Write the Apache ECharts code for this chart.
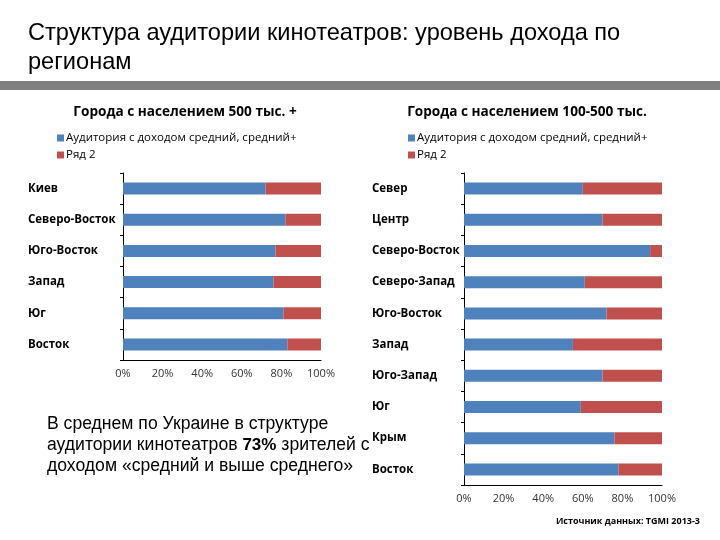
<!DOCTYPE html>
<html>
<head>
<meta charset="utf-8">
<script src="https://cdn.jsdelivr.net/npm/echarts@6/dist/echarts.min.js"></script>
<style>
html,body{margin:0;padding:0;background:#fff;}
#c{width:720px;height:540px;}
</style>
</head>
<body>
<div id="c"></div>
<script>
// ---- data ----
const leftCategories = ['Киев', 'Северо-Восток', 'Юго-Восток', 'Запад', 'Юг', 'Восток'];
const leftIncome = [72, 82, 77, 76, 81, 83];
const leftRow2 = [28, 18, 23, 24, 19, 17];

const rightCategories = ['Север', 'Центр', 'Северо-Восток', 'Северо-Запад', 'Юго-Восток', 'Запад', 'Юго-Запад', 'Юг', 'Крым', 'Восток'];
const rightIncome = [60, 70, 94, 61, 72, 55, 70, 59, 76, 78];
const rightRow2 = [40, 30, 6, 39, 28, 45, 30, 41, 24, 22];

const xTicks = [0, 20, 40, 60, 80, 100];
const seriesNames = ['Аудитория с доходом средний, средний+', 'Ряд 2'];

const BLUE = '#4F81BD';
const RED = '#C0504D';
const chartFont = 'Open Sans';

const chart = echarts.init(document.getElementById('c'), null, {renderer: 'canvas'});

function xAxisCfg(gridIndex) {
  return {
    gridIndex: gridIndex,
    type: 'value',
    min: xTicks[0],
    max: xTicks[xTicks.length - 1],
    interval: xTicks[1] - xTicks[0],
    axisLine: {show: true, lineStyle: {color: '#000', width: 1}},
    axisTick: {show: false},
    splitLine: {show: false},
    axisLabel: {
      formatter: v => v + '%',
      color: '#333',
      fontFamily: chartFont,
      fontSize: 11,
      margin: 8
    }
  };
}
function yAxisCfg(gridIndex, cats, margin) {
  return {
    gridIndex: gridIndex,
    type: 'category',
    data: cats,
    inverse: true,
    axisLine: {show: true, lineStyle: {color: '#000', width: 1}},
    axisTick: {show: true, length: 3, lineStyle: {color: '#000'}},
    axisLabel: {
      align: 'left',
      margin: margin,
      color: '#000',
      fontWeight: 'bold',
      fontFamily: chartFont,
      fontSize: 11.5
    }
  };
}
function barSeries(name, data, color, xi, yi) {
  return {
    name: name,
    type: 'bar',
    stack: 'g' + xi,
    xAxisIndex: xi,
    yAxisIndex: yi,
    data: data,
    barWidth: 12,
    itemStyle: {color: color},
    emphasis: {disabled: true},
    animation: false
  };
}

const option = {
  animation: false,
  backgroundColor: '#fff',
  title: [
    {
      text: 'Города с населением 500 тыс. +',
      left: 180, top: 100, textAlign: 'center',
      textStyle: {fontFamily: chartFont, fontWeight: 'bold', fontSize: 13.6, color: '#000'}
    },
    {
      text: 'Города с населением 100-500 тыс.',
      left: 522, top: 100, textAlign: 'center',
      textStyle: {fontFamily: chartFont, fontWeight: 'bold', fontSize: 13.6, color: '#000'}
    }
  ],
  legend: [
    {
      orient: 'vertical', left: 52, top: 127,
      itemWidth: 7, itemHeight: 7, itemGap: 5,
      icon: 'rect',
      data: seriesNames,
      textStyle: {fontFamily: chartFont, fontSize: 11.5, color: '#000', padding: [0, 0, 0, -3]}
    },
    {
      orient: 'vertical', left: 403, top: 127,
      itemWidth: 7, itemHeight: 7, itemGap: 5,
      icon: 'rect',
      data: seriesNames,
      textStyle: {fontFamily: chartFont, fontSize: 11.5, color: '#000', padding: [0, 0, 0, -3]}
    }
  ],
  grid: [
    {left: 123, right: 399, top: 173, bottom: 180},
    {left: 464, right: 58, top: 173, bottom: 55}
  ],
  xAxis: [xAxisCfg(0), xAxisCfg(1)],
  yAxis: [yAxisCfg(0, leftCategories, 95), yAxisCfg(1, rightCategories, 92)],
  series: [
    barSeries(seriesNames[0], leftIncome, BLUE, 0, 0),
    barSeries(seriesNames[1], leftRow2, RED, 0, 0),
    barSeries(seriesNames[0], rightIncome, BLUE, 1, 1),
    barSeries(seriesNames[1], rightRow2, RED, 1, 1)
  ],
  graphic: [
    {
      type: 'text', left: 28, top: 19, silent: true,
      style: {
        text: 'Структура аудитории кинотеатров: уровень дохода по\nрегионам',
        font: '23.6px "Liberation Sans", Arial, sans-serif',
        lineHeight: 29,
        fill: '#000'
      }
    },
    {
      type: 'rect', silent: true,
      shape: {x: 0, y: 81, width: 720, height: 9},
      style: {fill: '#808080'}
    },
    {
      type: 'text', left: 47, top: 415, silent: true, z: 10,
      style: {
        text: '{n|В среднем по Украине в структуре}\n{n|аудитории кинотеатров }{b|73%}{n| зрителей с}\n{n|доходом «средний и выше среднего»}',
        rich: {
          n: {fontFamily: '"Liberation Sans", Arial, sans-serif', fontSize: 17.6, lineHeight: 21, fill: '#000', color: '#000'},
          b: {fontFamily: '"Liberation Sans", Arial, sans-serif', fontSize: 17, fontWeight: 'bold', lineHeight: 21, fill: '#000', color: '#000'}
        }
      }
    },
    {
      type: 'text', right: 20, top: 517, silent: true,
      style: {
        text: 'Источник данных: TGMI 2013-3',
        font: 'bold 9px "Open Sans", sans-serif',
        fill: '#000'
      }
    }
  ]
};
chart.setOption(option);
</script>
</body>
</html>
